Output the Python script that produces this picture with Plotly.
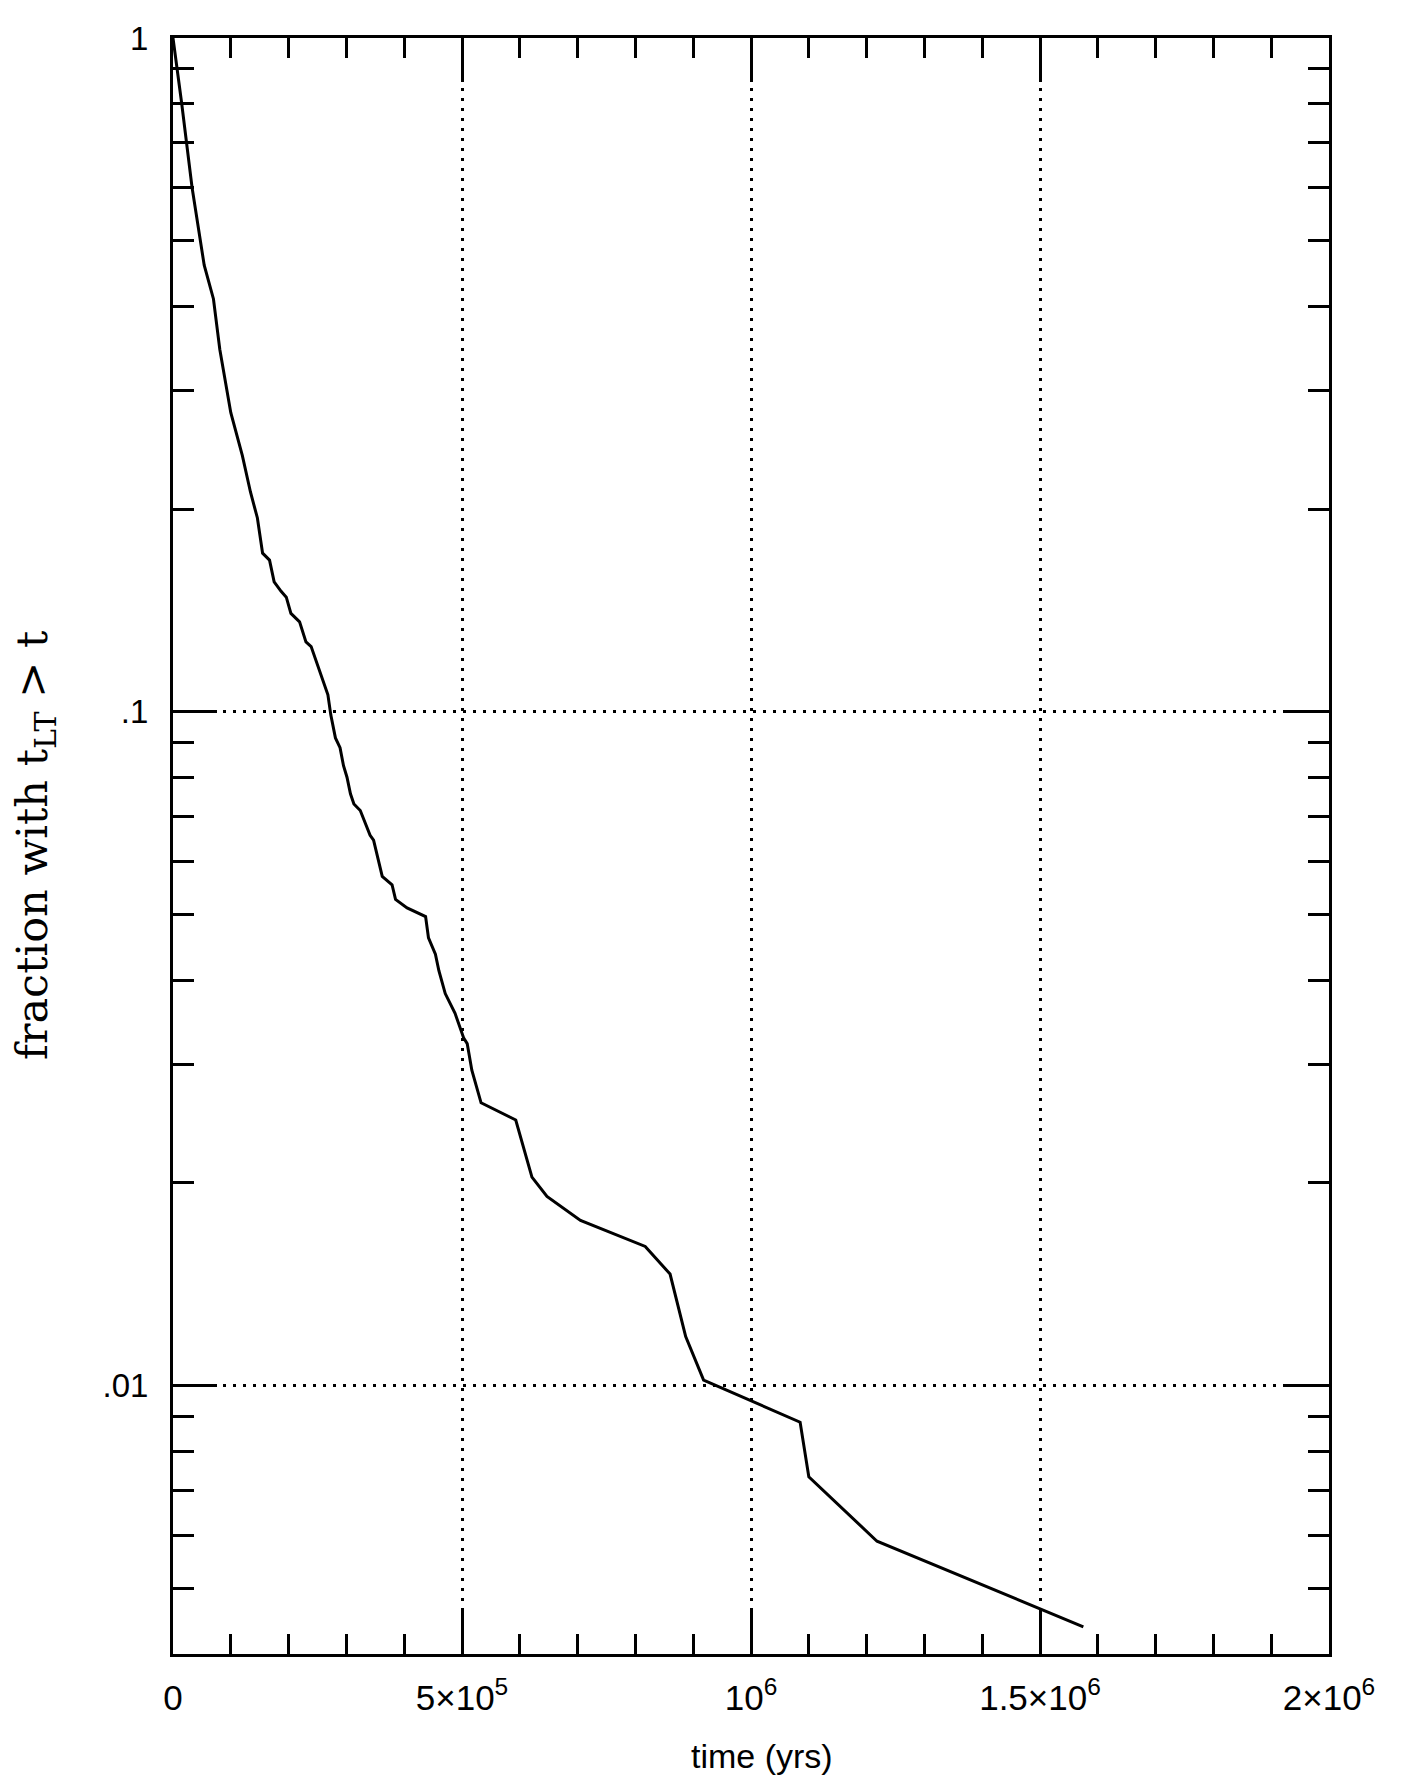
import math
import plotly.graph_objects as go

# data (time in years, fraction with t_LT > t)
time_yrs = [0, 15e3, 33e3, 54e3, 70e3, 81e3, 100e3, 120e3, 134e3, 146e3,
            155e3, 167e3, 175e3, 187e3, 196e3, 204e3, 219e3, 230e3, 239e3, 251e3,
            262e3, 268e3, 273e3, 281e3, 289e3, 295e3, 301e3, 307e3, 313e3, 324e3,
            341e3, 347e3, 362e3, 379e3, 385e3, 405e3, 437e3, 442e3, 454e3, 460e3,
            471e3, 488e3, 503e3, 509e3, 517e3, 533e3, 593e3, 621e3, 647e3, 705e3,
            817e3, 860e3, 887e3, 918e3, 1085e3, 1100e3, 1218e3, 1575e3]
fraction = [1.0, 0.80, 0.60, 0.46, 0.41, 0.345, 0.278, 0.240, 0.212, 0.194,
            0.172, 0.168, 0.156, 0.151, 0.148, 0.140, 0.136, 0.127, 0.125, 0.117,
            0.110, 0.106, 0.0990, 0.0915, 0.0885, 0.0832, 0.080, 0.0756, 0.073, 0.0714,
            0.0656, 0.0645, 0.057, 0.0554, 0.0527, 0.0512, 0.0497, 0.0462, 0.0437, 0.0413,
            0.0382, 0.0357, 0.0328, 0.0322, 0.0294, 0.0263, 0.0248, 0.0204, 0.0191, 0.0176,
            0.0161, 0.01465, 0.01183, 0.0102, 0.00883, 0.00733, 0.00588, 0.00439]

x_tickvals = [0, 5e5, 1e6, 1.5e6, 2e6]
x_ticktext = ["0", "5×10<sup>5</sup>", "10<sup>6</sup>", "1.5×10<sup>6</sup>", "2×10<sup>6</sup>"]
y_tickvals = [1, 0.1, 0.01]
y_ticktext = ["1", ".1", ".01"]

x_title = "time (yrs)"
y_title = "fraction with t<sub>LT</sub> > t"

fig = go.Figure()
fig.add_trace(go.Scatter(x=time_yrs, y=fraction, mode="lines",
                         line=dict(color="black", width=3), showlegend=False))

sans = "Liberation Sans, Arial, sans-serif"
grid_dash = "3px,7px"

fig.update_xaxes(
    range=[0, 2e6], showline=True, linewidth=3, linecolor="black", mirror="allticks",
    ticks="inside", ticklen=44, tickwidth=2.5, tickcolor="black",
    tickvals=x_tickvals, ticktext=x_ticktext,
    tickfont=dict(family=sans, size=35, color="black"), ticklabelstandoff=11,
    ticklabeloverflow="allow",
    showgrid=True, gridcolor="black", gridwidth=3, griddash=grid_dash,
    zeroline=False,
    minor=dict(dtick=1e5, ticks="inside", ticklen=20, tickwidth=2.5, tickcolor="black",
               showgrid=False),
)
fig.update_yaxes(
    type="log", range=[math.log10(0.004), 0], showline=True, linewidth=3, linecolor="black",
    mirror="allticks", ticks="inside", ticklen=44, tickwidth=2.5, tickcolor="black",
    tickvals=y_tickvals, ticktext=y_ticktext,
    tickfont=dict(family=sans, size=33, color="black"), ticklabelstandoff=15,
    ticklabeloverflow="allow",
    showgrid=True, gridcolor="black", gridwidth=3, griddash=grid_dash,
    zeroline=False,
    minor=dict(dtick="D1", ticks="inside", ticklen=21, tickwidth=2.5, tickcolor="black",
               showgrid=False),
)

PLOT_L, PLOT_W, PLOT_H = 165, 1156, 1631

fig.add_annotation(text=y_title, xref="paper", yref="paper", x=(27 - PLOT_L) / PLOT_W, y=0.5,
                   textangle=-90, showarrow=False, xanchor="center", yanchor="middle",
                   font=dict(family="DejaVu Serif, serif", size=43, color="black"))
fig.add_annotation(text=x_title, xref="paper", yref="paper", x=(754 - PLOT_L) / PLOT_W,
                   y=-103 / PLOT_H, showarrow=False, xanchor="center", yanchor="middle",
                   font=dict(family=sans, size=34, color="black"))

# the page body has an 8px margin, so the figure is sized to fit the window
fig.update_layout(
    width=1403, height=1774,
    margin=dict(l=PLOT_L, r=1403 - PLOT_L - PLOT_W, t=15, b=1774 - 15 - PLOT_H),
    paper_bgcolor="white", plot_bgcolor="white",
    showlegend=False,
)

fig.write_html("out.html")
